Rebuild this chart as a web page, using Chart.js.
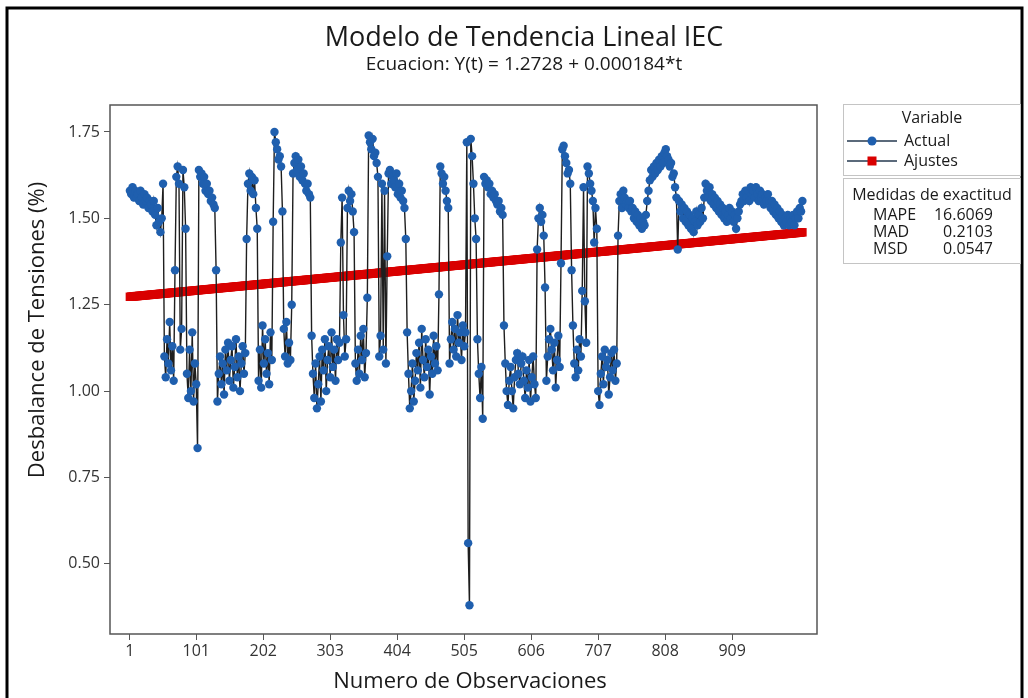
<!DOCTYPE html>
<html lang="es">
<head>
<meta charset="utf-8">
<title>Modelo de Tendencia Lineal IEC</title>
<script src="https://cdn.jsdelivr.net/npm/chart.js@4.4.0/dist/chart.umd.min.js"></script>
<style>
  html, body { margin: 0; padding: 0; background: #fff; }
  canvas { display: block; }
</style>
</head>
<body>
<canvas id="chart" width="1028" height="698"></canvas>
<script>
// voltage imbalance (%), one reading every second observation
const obsStep = 2;
const actual = [
  1.58, 1.57, 1.59, 1.56, 1.58, 1.56, 1.57, 1.55, 1.58, 1.56, 1.54, 1.57, 1.55, 1.56, 1.53,
  1.55, 1.54, 1.52, 1.55, 1.51, 1.48, 1.53, 1.49, 1.46, 1.50,
  1.60, 1.10, 1.04, 1.15, 1.08, 1.20, 1.06, 1.13, 1.03, 1.35, 1.62, 1.65, 1.60, 1.12, 1.18,
  1.64, 1.59, 1.47, 1.05, 0.98, 1.12, 1.00, 1.17, 0.97, 1.08, 1.02, 0.835,
  1.64, 1.62, 1.63, 1.60, 1.62, 1.58, 1.60, 1.57, 1.58, 1.55, 1.56, 1.54, 1.53, 1.35,
  0.97, 1.05, 1.10, 1.02, 1.08, 0.99, 1.12, 1.06, 1.14, 1.03, 1.09, 1.13, 1.01, 1.07, 1.15,
  1.04, 1.10, 1.00, 1.08, 1.13, 1.05, 1.11,
  1.44, 1.60, 1.63, 1.58, 1.62, 1.57, 1.61, 1.53, 1.47,
  1.03, 1.12, 1.01, 1.19, 1.08, 1.15, 1.05, 1.11, 1.02, 1.17, 1.09,
  1.49, 1.75, 1.72, 1.70, 1.67, 1.68, 1.65, 1.52,
  1.18, 1.10, 1.20, 1.08, 1.14, 1.09, 1.25,
  1.63, 1.66, 1.68, 1.64, 1.67, 1.62, 1.65, 1.61, 1.63, 1.60, 1.58, 1.60, 1.57, 1.56,
  1.16, 1.05, 0.98, 1.08, 0.95, 1.02, 1.10, 0.97, 1.12, 1.06, 1.15, 1.00, 1.09, 1.13, 1.04,
  1.17, 1.07, 1.12, 1.03, 1.15, 1.09, 1.14,
  1.43, 1.56, 1.22, 1.10, 1.15, 1.53, 1.58, 1.55, 1.57, 1.52, 1.46,
  1.08, 1.03, 1.12, 1.05, 1.16, 1.09, 1.18, 1.04, 1.11,
  1.27, 1.74, 1.72, 1.70, 1.73, 1.68, 1.69, 1.66,
  1.62, 1.10, 1.16, 1.60, 1.12, 1.58, 1.08, 1.39,
  1.63, 1.64, 1.60, 1.62, 1.61, 1.59, 1.63, 1.57, 1.60, 1.56, 1.58, 1.55, 1.53, 1.44,
  1.17, 1.05, 0.95, 1.00, 1.08, 0.97, 1.03, 1.11, 1.06, 1.14, 1.01, 1.18, 1.09, 1.04, 1.15,
  1.07, 1.12, 0.99, 1.10, 1.05, 1.16, 1.08, 1.13, 1.06,
  1.28, 1.65, 1.63, 1.60, 1.62, 1.58, 1.55, 1.53,
  1.08, 1.15, 1.20, 1.12, 1.18, 1.10, 1.22, 1.14, 1.17, 1.09, 1.19, 1.13, 1.17,
  1.72, 0.56, 0.38, 1.73, 1.68, 1.60, 1.50, 1.44,
  1.15, 1.05, 0.98, 1.07, 0.92,
  1.62, 1.60, 1.61, 1.59, 1.60, 1.57, 1.58, 1.56, 1.57, 1.55, 1.54, 1.55, 1.52, 1.53, 1.51,
  1.19, 1.08, 1.00, 0.96, 1.03, 1.07, 1.00, 0.95, 1.04, 1.09, 1.11, 1.05, 1.02, 1.08, 1.10,
  1.03, 0.98, 1.06, 1.01, 1.09, 0.97, 1.04, 1.10, 1.02, 0.98,
  1.41, 1.50, 1.53, 1.49, 1.51, 1.45, 1.30,
  1.03, 1.10, 1.15, 1.18, 1.12, 1.06, 1.14, 1.01, 1.09, 1.16, 1.07,
  1.37, 1.70, 1.71, 1.68, 1.66, 1.63, 1.64, 1.60,
  1.35, 1.19, 1.08, 1.04, 1.12, 1.06, 1.15, 1.10,
  1.29, 1.59, 1.26, 1.14, 1.65, 1.63, 1.60, 1.58, 1.55, 1.43, 1.53, 1.47,
  1.00, 0.96, 1.05, 1.10, 1.02, 1.12, 1.07, 1.09, 0.99, 1.04, 1.11, 1.06, 1.12, 1.03, 1.08,
  1.45, 1.55, 1.57, 1.53, 1.58, 1.56, 1.54, 1.55,
  1.53, 1.55, 1.52, 1.53, 1.50, 1.52, 1.49, 1.51, 1.48, 1.50, 1.47, 1.49, 1.48,
  1.51, 1.55, 1.58, 1.61, 1.64, 1.62,
  1.65, 1.63, 1.66, 1.64, 1.67, 1.65, 1.68, 1.66, 1.69, 1.70, 1.68,
  1.67, 1.65, 1.66, 1.62, 1.63, 1.59, 1.56, 1.41,
  1.55, 1.52, 1.54, 1.50, 1.53, 1.49, 1.52, 1.48, 1.51, 1.47, 1.50, 1.46, 1.49, 1.52, 1.48,
  1.51, 1.49, 1.53, 1.50,
  1.56, 1.60, 1.58, 1.56, 1.59, 1.55, 1.57, 1.54, 1.56, 1.53, 1.55, 1.52, 1.54, 1.51,
  1.53, 1.50, 1.52, 1.49, 1.51, 1.53, 1.50, 1.52, 1.49, 1.51, 1.47, 1.50, 1.52, 1.54,
  1.55, 1.57, 1.55, 1.58, 1.56, 1.58, 1.55, 1.59, 1.57, 1.58, 1.56, 1.59, 1.57, 1.55, 1.58,
  1.56, 1.57, 1.54, 1.56, 1.55, 1.57,
  1.55, 1.53, 1.55, 1.52, 1.54, 1.51, 1.53, 1.50, 1.52, 1.49, 1.51, 1.48, 1.50, 1.49, 1.51,
  1.48, 1.50, 1.49, 1.51, 1.48, 1.50, 1.52, 1.50, 1.53, 1.52, 1.55
];

// trend equation Y(t) = b0 + b1*t
const intercept = 1.2728;
const slope = 0.000184;

const xTicks = [1, 101, 202, 303, 404, 505, 606, 707, 808, 909];
const yTicks = [0.50, 0.75, 1.00, 1.25, 1.50, 1.75];

const seriesNames = ["Actual", "Ajustes"];
const accuracyNames = ["MAPE", "MAD", "MSD"];
const accuracyValues = ["16.6069", "0.2103", "0.0547"];

const mainTitle = "Modelo de Tendencia Lineal IEC";
const subTitle = "Ecuacion: Y(t) = " + intercept + " + " + slope.toFixed(6) + "*t";
const xTitle = "Numero de Observaciones";
const yTitle = "Desbalance de Tensiones (%)";

const blue = "#1f5fae";
const red = "#d90000";
const lineDark = "#1e1e1e";
const font = '"Open Sans", sans-serif';

const obs = actual.map((v, i) => 1 + i * obsStep);
const actualPts = actual.map((v, i) => ({ x: obs[i], y: v }));
const fitPts = obs.map((t) => ({ x: t, y: intercept + slope * t }));

Chart.defaults.font.family = font;

const decorations = {
  id: "decorations",
  beforeDraw(chart) {
    const ctx = chart.ctx;
    ctx.save();
    ctx.fillStyle = "#fff";
    ctx.fillRect(0, 0, chart.width, chart.height);
    ctx.restore();
  },
  afterDraw(chart) {
    const ctx = chart.ctx;
    const a = chart.chartArea;
    ctx.save();

    // plot frame
    ctx.strokeStyle = "#555";
    ctx.lineWidth = 1.5;
    ctx.strokeRect(a.left, a.top, a.right - a.left, a.bottom - a.top);

    // outer border
    ctx.strokeStyle = "#000";
    ctx.lineWidth = 3;
    ctx.strokeRect(7, 8, 1015, 705);

    // titles
    ctx.fillStyle = "#1a1a1a";
    ctx.textAlign = "center";
    ctx.textBaseline = "middle";
    ctx.font = "27px " + font;
    ctx.fillText(mainTitle, 524, 38);
    ctx.font = "19px " + font;
    ctx.fillText(subTitle, 524, 65);

    // axis titles
    ctx.font = "22px " + font;
    ctx.fillText(xTitle, 470, 682);
    ctx.save();
    ctx.translate(38, 330);
    ctx.rotate(-Math.PI / 2);
    ctx.fillText(yTitle, 0, 0);
    ctx.restore();

    // legend box
    ctx.strokeStyle = "#c4c4c4";
    ctx.lineWidth = 1;
    ctx.strokeRect(843.5, 104.5, 177, 71);
    ctx.font = "16px " + font;
    ctx.fillText("Variable", 932, 118);
    ctx.textAlign = "left";
    const rowY = [141, 161];
    seriesNames.forEach((name, k) => {
      const y = rowY[k];
      ctx.strokeStyle = "#24384f";
      ctx.lineWidth = 1.5;
      ctx.beginPath();
      ctx.moveTo(847, y);
      ctx.lineTo(897, y);
      ctx.stroke();
      if (k === 0) {
        ctx.fillStyle = blue;
        ctx.beginPath();
        ctx.arc(872, y, 4.5, 0, Math.PI * 2);
        ctx.fill();
      } else {
        ctx.fillStyle = red;
        ctx.fillRect(867.5, y - 4.5, 9, 9);
      }
      ctx.fillStyle = "#1a1a1a";
      ctx.fillText(name, 904, y);
    });

    // accuracy measures box
    ctx.strokeStyle = "#c4c4c4";
    ctx.lineWidth = 1;
    ctx.strokeRect(843.5, 178.5, 177, 85);
    ctx.textAlign = "center";
    ctx.fillText("Medidas de exactitud", 932, 195);
    const accY = [215, 232, 249];
    accuracyNames.forEach((name, k) => {
      ctx.textAlign = "left";
      ctx.fillText(name, 873, accY[k]);
      ctx.textAlign = "right";
      ctx.fillText(accuracyValues[k], 993, accY[k]);
    });

    ctx.restore();
  }
};

const ctx = document.getElementById("chart");
const chart = new Chart(ctx, {
  type: "line",
  data: {
    datasets: [
      {
        label: seriesNames[0],
        data: actualPts,
        borderColor: lineDark,
        borderWidth: 1.4,
        pointBackgroundColor: blue,
        pointBorderColor: blue,
        pointBorderWidth: 0,
        pointRadius: 4.2,
        pointStyle: "circle",
        fill: false,
      },
      {
        label: seriesNames[1],
        data: fitPts,
        borderColor: red,
        borderWidth: 8,
        pointBackgroundColor: red,
        pointBorderWidth: 0,
        pointRadius: 6,
        pointStyle: "rect",
        fill: false,
      },
    ],
  },
  options: {
    responsive: false,
    animation: false,
    devicePixelRatio: 1,
    layout: { padding: { left: 0, top: 105, right: 211, bottom: 0 } },
    plugins: {
      legend: { display: false },
      tooltip: { enabled: false },
    },
    scales: {
      x: {
        type: "linear",
        min: -29,
        max: 1037,
        border: { display: false },
        grid: { drawOnChartArea: false, drawTicks: true, tickLength: 6, color: "#555" },
        afterBuildTicks: (s) => { s.ticks = xTicks.map((v) => ({ value: v })); },
        afterFit: (s) => { s.height = 64; },
        ticks: {
          autoSkip: false,
          maxRotation: 0,
          padding: 2,
          color: "#333",
          font: { size: 16 },
          callback: (v) => String(v),
        },
      },
      y: {
        type: "linear",
        min: 0.297,
        max: 1.828,
        border: { display: false },
        grid: { drawOnChartArea: false, drawTicks: true, tickLength: 6, color: "#555" },
        afterBuildTicks: (s) => { s.ticks = yTicks.map((v) => ({ value: v })); },
        afterFit: (s) => { s.width = 110; },
        ticks: {
          autoSkip: false,
          padding: 4,
          color: "#333",
          font: { size: 16 },
          callback: (v) => v.toFixed(2),
        },
      },
    },
  },
  plugins: [decorations],
});
</script>
</body>
</html>
